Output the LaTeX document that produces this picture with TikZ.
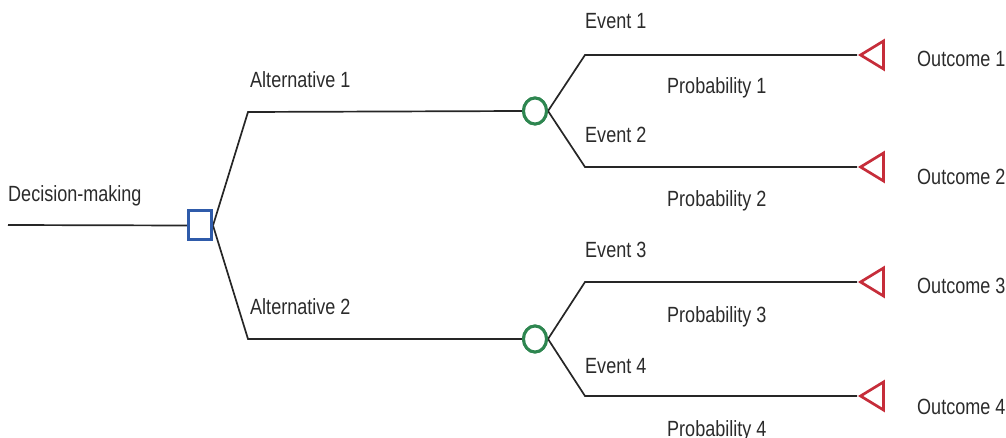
\documentclass[tikz,border=0pt]{standalone}
\usepackage{fontspec}
\setmainfont{Liberation Sans}[FakeStretch=0.82]
\usetikzlibrary{shapes.geometric}
\definecolor{decblue}{HTML}{2F5BAA}
\definecolor{chancegreen}{HTML}{2E8650}
\definecolor{endred}{HTML}{C62D3A}
\definecolor{labelgray}{HTML}{2B2B2B}
\tikzset{
  branch/.style={line width=1.7pt, draw=black!85},
  decisionbox/.style={rectangle, draw=decblue, line width=3pt, fill=white,
    minimum width=23pt, minimum height=29pt, inner sep=0pt},
  chancenode/.style={ellipse, draw=chancegreen, line width=3pt, fill=white,
    minimum width=23pt, minimum height=26pt, inner sep=0pt},
  outcomemark/.style={isosceles triangle, shape border rotate=180,
    isosceles triangle stretches, draw=endred, line width=2.7pt, fill=white,
    minimum width=28pt, minimum height=23pt, inner sep=0pt},
  lbl/.style={anchor=base west, inner sep=0pt, text=labelgray,
    font=\fontsize{22}{26}\selectfont}
}
\begin{document}
\begin{tikzpicture}[x=1pt, y=-1pt]
\useasboundingbox (0,0) rectangle (1006,438);

% decision, chance and outcome markers
\node[decisionbox] (dm) at (200,225.5) {};
\node[chancenode] (c1) at (535,111) {};
\node[chancenode] (c2) at (535,339) {};
\node[outcomemark, anchor=apex] (o1) at (857,55) {};
\node[outcomemark, anchor=apex] (o2) at (857,167) {};
\node[outcomemark, anchor=apex] (o3) at (857,282) {};
\node[outcomemark, anchor=apex] (o4) at (857,396) {};

% bend points of the branches
\coordinate (start) at (8,225);
\coordinate (a1) at (248,112);
\coordinate (a2) at (248,339);
\coordinate (e1) at (585,55);
\coordinate (e2) at (585,167);
\coordinate (e3) at (585,282);
\coordinate (e4) at (585,396);

% branches
\draw[branch] (start) -- (dm.west);
\draw[branch] (dm.east) -- (a1) -- (c1.west);
\draw[branch] (dm.east) -- (a2) -- (c2.west);
\draw[branch] (c1.east) -- (e1) -- (o1.apex);
\draw[branch] (c1.east) -- (e2) -- (o2.apex);
\draw[branch] (c2.east) -- (e3) -- (o3.apex);
\draw[branch] (c2.east) -- (e4) -- (o4.apex);

% redraw markers above the branch ends
\node[decisionbox] at (dm) {};
\node[chancenode] at (c1) {};
\node[chancenode] at (c2) {};

% labels
\node[lbl] (ldm) at (8,202) {Decision-making};
\node[lbl] (la1) at (250,88) {Alternative 1};
\node[lbl] (la2) at (250,314) {Alternative 2};
\node[lbl] (lev1) at (585,29) {Event 1};
\node[lbl] (lev2) at (585,143) {Event 2};
\node[lbl] (lev3) at (585,258) {Event 3};
\node[lbl] (lev4) at (585,373) {Event 4};
\node[lbl] (lp1) at (667,94) {Probability 1};
\node[lbl] (lp2) at (667,207) {Probability 2};
\node[lbl] (lp3) at (667,322) {Probability 3};
\node[lbl] (lp4) at (667,436) {Probability 4};
\node[lbl] (lo1) at (917,67) {Outcome 1};
\node[lbl] (lo2) at (917,185) {Outcome 2};
\node[lbl] (lo3) at (917,293) {Outcome 3};
\node[lbl] (lo4) at (917,414) {Outcome 4};
\end{tikzpicture}
\end{document}
